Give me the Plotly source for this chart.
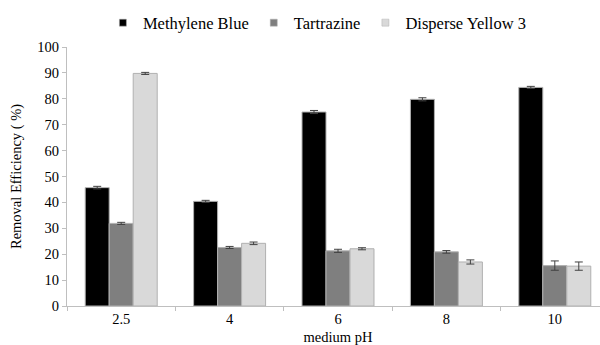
import plotly.graph_objects as go

categories = ["2.5", "4", "6", "8", "10"]
methylene_blue = [45.7, 40.4, 74.9, 79.8, 84.4]
methylene_blue_err = [0.5, 0.4, 0.6, 0.6, 0.4]
tartrazine = [31.9, 22.6, 21.3, 20.9, 15.6]
tartrazine_err = [0.4, 0.4, 0.6, 0.5, 1.8]
disperse_yellow = [89.8, 24.2, 22.1, 17.0, 15.4]
disperse_yellow_err = [0.4, 0.5, 0.4, 0.8, 1.6]
y_ticks = list(range(0, 101, 10))

FF = "Times New Roman"
fig = go.Figure()
series = [
    ("Methylene Blue", methylene_blue, methylene_blue_err, "#000000"),
    ("Tartrazine", tartrazine, tartrazine_err, "#7f7f7f"),
    ("Disperse Yellow 3", disperse_yellow, disperse_yellow_err, "#d9d9d9"),
]
for name, vals, errs, color in series:
    fig.add_trace(go.Bar(
        x=categories, y=vals, name=name, legendgroup=name, showlegend=False,
        marker=dict(color=color, line=dict(color="#b0b0b0", width=1)),
        error_y=dict(type="data", array=errs, color="#404040", thickness=1, width=4),
    ))
for name, vals, errs, color in series:
    fig.add_trace(go.Scatter(
        x=[categories[0]], y=[None], name=name, legendgroup=name, mode="markers",
        marker=dict(symbol="square", size=7, color=color, line=dict(color="#b0b0b0", width=0.5)),
    ))

fig.update_layout(
    width=610, height=345,
    barmode="group", bargap=0.336, bargroupgap=0,
    plot_bgcolor="white", paper_bgcolor="white",
    margin=dict(l=67, r=1, t=47, b=39),
    font=dict(family=FF, size=13, color="#000000"),
    legend=dict(orientation="h", x=0.462, xanchor="center", y=1.093, yanchor="middle",
                font=dict(family=FF, size=16.5), itemwidth=30, traceorder="normal",
                tracegroupgap=0),
    xaxis=dict(
        title=dict(text="medium pH", font=dict(family=FF, size=14.5), standoff=5),
        showline=True, linecolor="#bfbfbf", linewidth=1,
        ticks="outside", ticklen=4, tickcolor="#bfbfbf", tickson="boundaries",
        tickfont=dict(family=FF, size=14.5),
    ),
    yaxis=dict(
        title=dict(text="Removal Efficiency ( %)", font=dict(family=FF, size=14.5), standoff=12),
        range=[0, 100], tickvals=y_ticks, showgrid=False, zeroline=False,
        showline=True, linecolor="#bfbfbf", linewidth=1,
        ticks="outside", ticklen=4, tickcolor="#bfbfbf",
        tickfont=dict(family=FF, size=14.5),
    ),
)
fig.write_html("out.html", config={"displayModeBar": False},
               post_script="document.body.style.margin='0px';document.body.style.overflow='hidden';")
